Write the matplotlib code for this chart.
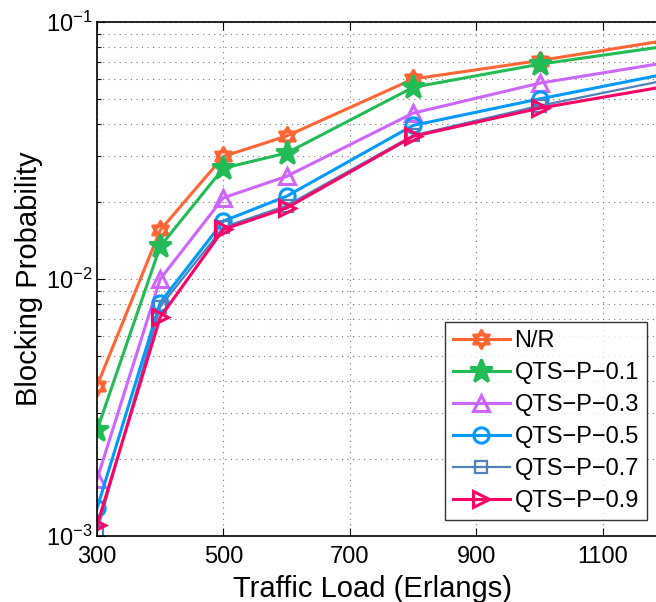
import numpy as np
import matplotlib
matplotlib.use("Agg")
import matplotlib.pyplot as plt
from matplotlib.path import Path
from matplotlib.ticker import LogLocator, NullFormatter, FixedLocator

plt.rcParams['font.family'] = ['Liberation Sans', 'DejaVu Sans']
plt.rcParams['mathtext.fontset'] = 'custom'
plt.rcParams['mathtext.rm'] = 'Liberation Sans'
plt.rcParams['mathtext.it'] = 'Liberation Sans:italic'
plt.rcParams['mathtext.bf'] = 'Liberation Sans:bold'

# traffic load (Erlangs)
load = [300, 400, 500, 600, 800, 1000, 1200]

# blocking probability per scheme
nr = [3.84e-3, 0.0155, 0.0300, 0.0360, 0.0600, 0.0708, 0.0848]
qts_01 = [2.58e-3, 0.0134, 0.0270, 0.0309, 0.0557, 0.0685, 0.0805]
qts_03 = [1.66e-3, 0.0100, 0.0207, 0.0251, 0.0442, 0.0578, 0.0695]
qts_05 = [1.28e-3, 0.0081, 0.0168, 0.0210, 0.0396, 0.0502, 0.0628]
qts_07 = [1.04e-3, 0.0078, 0.0159, 0.0193, 0.0362, 0.0472, 0.0594]
qts_09 = [1.10e-3, 0.0071, 0.0156, 0.0189, 0.0359, 0.0462, 0.0562]

labels = ['N/R', 'QTS\u2212P\u22120.1', 'QTS\u2212P\u22120.3',
          'QTS\u2212P\u22120.5', 'QTS\u2212P\u22120.7', 'QTS\u2212P\u22120.9']
xticks = [300, 500, 700, 900, 1100]

# hexagram marker: two overlaid triangles
t = np.deg2rad([90, 210, 330])
tri_up = np.column_stack([np.cos(t), np.sin(t)])
tri_dn = -tri_up
verts = np.vstack([tri_up, tri_up[:1], tri_dn, tri_dn[:1]])
codes = [Path.MOVETO, Path.LINETO, Path.LINETO, Path.CLOSEPOLY] * 2
hexagram = Path(verts, codes)

fig = plt.figure(figsize=(6.56, 6.02), dpi=100)
# axes runs to x=1200, a little past the right edge of the picture
ax = fig.add_axes([97 / 656, 66 / 602, 569 / 656, 514 / 602])

series = [
    (nr, '#FF6633', hexagram, 'none', 13, 2.2),
    (qts_01, '#22BB55', '*', '#22BB55', 17, 2.2),
    (qts_03, '#CC66FF', '^', 'none', 12, 2.2),
    (qts_05, '#0099FF', 'o', 'none', 11, 2.2),
    (qts_07, '#4F81BD', 's', 'none', 9, 1.6),
    (qts_09, '#FF0066', '>', 'none', 12, 2.2),
]
for (vals, col, mk, fc, ms, lw), lab in zip(series, labels):
    ax.plot(load, vals, color=col, marker=mk, markerfacecolor=fc,
            markeredgecolor=col, markersize=ms, markeredgewidth=lw,
            linewidth=lw, label=lab)

ax.set_yscale('log')
ax.set_xlim(300, 1200)
ax.set_ylim(1e-3, 1e-1)
ax.xaxis.set_major_locator(FixedLocator(xticks))
ax.yaxis.set_major_locator(LogLocator(base=10, numticks=10))
ax.yaxis.set_minor_locator(LogLocator(base=10, subs=np.arange(2, 10), numticks=10))
ax.yaxis.set_minor_formatter(NullFormatter())

ax.grid(True, which='major', color='#777777', linestyle=(0, (1, 4)), linewidth=0.8)
ax.grid(True, which='minor', axis='y', color='#777777', linestyle=(0, (1, 4)), linewidth=0.8)

ax.tick_params(which='both', direction='in', top=True, right=True, labelsize=17)
ax.tick_params(which='major', length=6, width=0.8)
ax.tick_params(axis='x', which='major', pad=7)
ax.tick_params(axis='y', which='major', pad=3)
ax.tick_params(which='minor', length=3, width=0.8)
for s in ax.spines.values():
    s.set_linewidth(1.2)

ax.set_xlabel('Traffic Load (Erlangs)', fontsize=21)
ax.xaxis.set_label_coords(0.485, -0.075, transform=ax.transAxes)
ax.xaxis.label.set_va('top')
ax.set_ylabel('Blocking Probability', fontsize=21, labelpad=2)

leg = ax.legend(loc='lower right', bbox_to_anchor=(0.967, 0.031), fontsize=17,
                frameon=True, fancybox=False, edgecolor='black',
                handlelength=2.4, handletextpad=0.2, borderpad=0.35,
                labelspacing=0.42, borderaxespad=0)
leg.get_frame().set_linewidth(1.0)

fig.savefig('out.png', dpi=100)
